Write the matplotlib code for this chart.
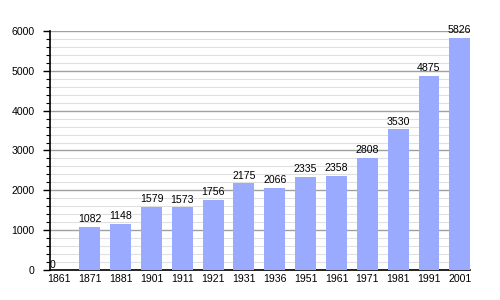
import matplotlib
matplotlib.use("Agg")
import matplotlib.pyplot as plt
from matplotlib.ticker import MultipleLocator

years = ["1861", "1871", "1881", "1901", "1911", "1921", "1931", "1936",
         "1951", "1961", "1971", "1981", "1991", "2001"]
population = [0, 1082, 1148, 1579, 1573, 1756, 2175, 2066, 2335, 2358,
              2808, 3530, 4875, 5826]

plt.rcParams['font.family'] = ['Liberation Sans', 'DejaVu Sans']
FS = 7.6

fig = plt.figure(figsize=(5, 3), dpi=100)
ax = fig.add_axes([0.1, 0.1, 0.84, 0.7967])

x = list(range(len(years)))
bar_w = 0.68
bars = ax.bar(x, population, width=bar_w, color='#99aaff', zorder=3)
for xi, v in zip(x, population):
    if v == 0:
        ax.text(xi - bar_w / 2 + 0.05, v, str(v), ha='left', va='bottom',
                fontsize=FS, zorder=4)
    else:
        ax.text(xi, v + 70, str(v), ha='center', va='bottom', fontsize=FS, zorder=4)

ax.set_xlim(-0.29, 13.33)
ax.set_ylim(0, 6000)
ax.set_xticks(x)
ax.set_xticklabels(years, fontsize=FS)
ax.yaxis.set_major_locator(MultipleLocator(1000))
ax.yaxis.set_minor_locator(MultipleLocator(200))
ax.tick_params(axis='y', which='major', labelsize=FS, length=5, width=1,
               direction='out', pad=6)
ax.tick_params(axis='y', which='minor', length=3, width=0.8, direction='out')
ax.tick_params(axis='x', length=0, pad=3)
ax.grid(axis='y', which='major', color='#a0a0a0', linewidth=1, zorder=0)
ax.grid(axis='y', which='minor', color='#e0e0e0', linewidth=0.8, zorder=0)
ax.set_axisbelow(True)
for s in ['top', 'right']:
    ax.spines[s].set_visible(False)
ax.spines['left'].set_linewidth(1.2)
ax.spines['bottom'].set_linewidth(1.2)

fig.savefig("out.png", dpi=100)
